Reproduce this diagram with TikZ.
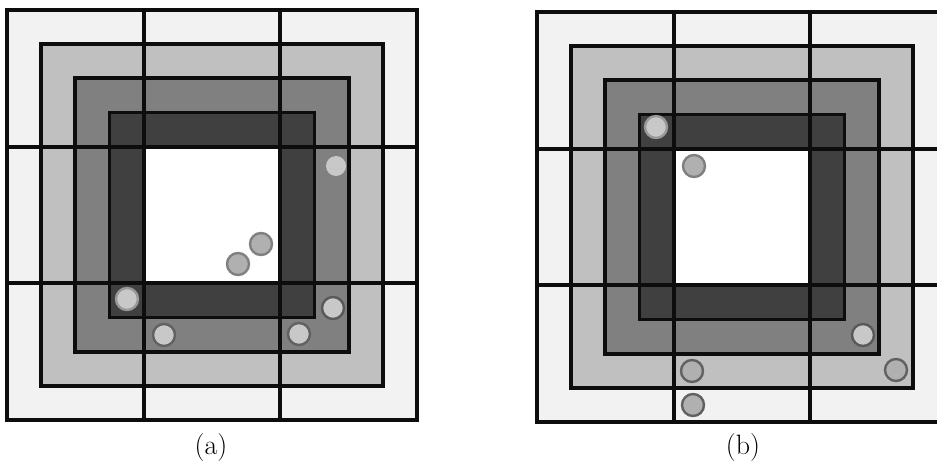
\documentclass[tikz,border=0pt]{standalone}
\usepackage{tikz}
\definecolor{bordC}{RGB}{242,242,242}
\definecolor{anneauA}{RGB}{192,192,192}
\definecolor{anneauB}{RGB}{128,128,128}
\definecolor{anneauC}{RGB}{64,64,64}
\definecolor{pionC}{RGB}{200,200,200}
\definecolor{pionF}{RGB}{176,176,176}
\tikzset{
  anneau/.style={fill=#1, draw=black!95, line width=2.9pt},
  grille/.style={draw=black!95, line width=2.9pt, line cap=rect},
  pion/.style 2 args={fill=#1, draw=#2, line width=1.8pt},
  legende/.style={font=\fontsize{21}{25}\selectfont, inner sep=0pt},
}
\def\larg{34.17}

\begin{document}
\begin{tikzpicture}[x=0.75pt, y=-0.75pt]
  \useasboundingbox (0,0) rectangle (937,466);
  \clip (0,0) rectangle (937,466);
  % deux panneaux identiques
  \foreach \px/\py in {7/10, 537/12} {
    \begin{scope}[shift={(\px,\py)}]
      \foreach \k/\c in {0/bordC, 1/anneauA, 2/anneauB, 3/anneauC, 4/white}
        \draw[anneau=\c] (\k*\larg, \k*\larg) rectangle (410-\k*\larg, 410-\k*\larg);
      \foreach \g in {1,2} {
        \draw[grille] (\g*4*\larg, 0) -- (\g*4*\larg, 410);
        \draw[grille] (0, \g*4*\larg) -- (410, \g*4*\larg);
      }
    \end{scope}
  }
  % pions (a)
  \fill[pionC] (336,166) circle (10);
  \draw[pion={pionF}{anneauB}] (261,244) circle (11);
  \draw[pion={pionF}{anneauB}] (238,264) circle (11);
  \draw[pion={pionC}{gray!80}] (127,299) circle (11);
  \draw[pion={pionC}{black!65}] (333,308) circle (11);
  \draw[pion={pionC}{black!62}] (164,335) circle (11);
  \draw[pion={pionC}{black!62}] (299,334) circle (11);
  % pions (b)
  \draw[pion={pionC}{gray!80}] (656,127) circle (11);
  \draw[pion={pionF}{anneauB}] (694,166) circle (11);
  \draw[pion={pionC}{black!65}] (863,335) circle (11);
  \draw[pion={pionF}{black!62}] (896,370) circle (11);
  \draw[pion={pionF}{black!62}] (692,371) circle (11);
  \draw[pion={pionF}{black!62}] (693,405) circle (11);
  \node[legende] (legA) at (211,448) {(a)};
  \node[legende] (legB) at (743,448) {(b)};
\end{tikzpicture}
\end{document}
